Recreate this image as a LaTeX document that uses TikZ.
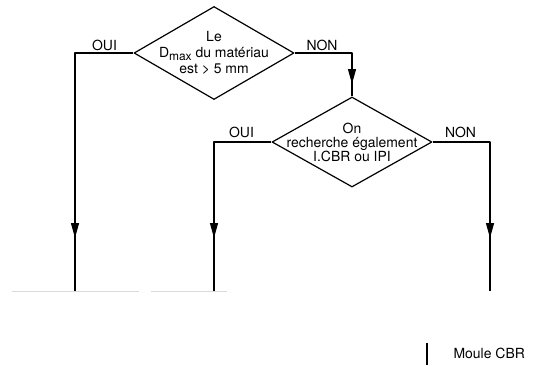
\documentclass[tikz,border=0pt]{standalone}
\usepackage{fontspec}
\setmainfont{TeX Gyre Heros}
\usetikzlibrary{shapes.geometric,arrows.meta}
\begin{document}
\begin{tikzpicture}[x=1bp, y=-1bp, >={Triangle[length=15bp,width=8bp]}, font=\fontsize{14}{16}\selectfont, line join=round, line width=1.2bp,
		losange/.style={draw, diamond, inner sep=0pt, minimum width=160bp, minimum height=#1},
		rep/.style={anchor=base}]
	\useasboundingbox (0,0) rectangle (543,365);
	\path
	(75,53) coordinate (A1)
	(75,238) coordinate (A2)
	(75,291) coordinate (A3)
	(352,53) coordinate (B1)
	(352,84) coordinate (B2)
	(214,142) coordinate (C1)
	(214,238) coordinate (C2)
	(214,291) coordinate (C3)
	(490,142) coordinate (D1)
	(490,238) coordinate (D2)
	(490,291) coordinate (D3)
	(12,291) coordinate (G1)
	(139,291) coordinate (G2)
	(151,291) coordinate (G3)
	(227,291) coordinate (G4)
	(427,343) coordinate (M1)
	(427,365) coordinate (M2)
	;
	\node[losange=93bp] (L1) at (214,53) {};
	\node[align=center] (T1) at (L1) {Le\\D\raisebox{-0.4ex}{\fontsize{12}{12}\selectfont max} du matériau\\est > 5 mm};
	\node[losange=90bp] (L2) at (352,142) {};
	\node[align=center, font=\fontsize{14}{14}\selectfont] (T2) at (L2) {On\\recherche également\\I.CBR ou IPI};
	\draw (L1.west) -- (A1) -- (A3);
	\draw[->] (A1) -- (A2);
	\draw (L1.east) -- (B1) -- (L2.north);
	\draw[->] (B1) -- (B2);
	\draw (L2.west) -- (C1) -- (C3);
	\draw[->] (C1) -- (C2);
	\draw (L2.east) -- (D1) -- (D3);
	\draw[->] (D1) -- (D2);
	\node[rep] (oui1) at (104.5,50) {OUI};
	\node[rep] (non1) at (322,50) {NON};
	\node[rep] (oui2) at (241.5,137) {OUI};
	\node[rep] (non2) at (460.5,137) {NON};
	\draw[gray!30, line width=0.6bp] (G1) -- (G2) (G3) -- (G4);
	\draw (M1) -- (M2);
	\node[anchor=base west, inner sep=0pt] (moule) at (453,358) {Moule CBR};
\end{tikzpicture}
\end{document}
